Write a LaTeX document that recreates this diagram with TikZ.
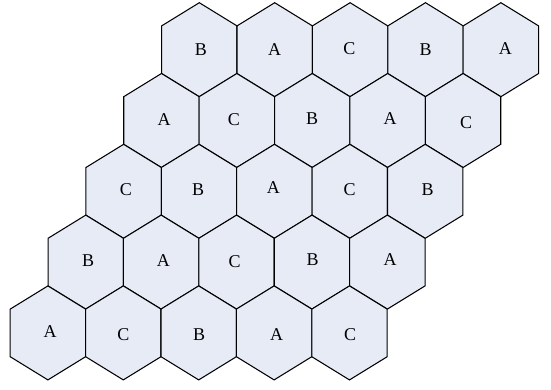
\documentclass[tikz,border=0pt]{standalone}
\usepackage{fontspec}
\setmainfont{Liberation Serif}
\definecolor{hexfill}{RGB}{230,235,246}
\begin{document}
\begin{tikzpicture}[x=1pt,y=-1pt,
  hex/.style={draw=black, line width=1.05pt, fill=hexfill, line join=miter},
  lbl/.style={font=\fontsize{18}{18}\selectfont, inner sep=0pt}]
\useasboundingbox (0,0) rectangle (551,389);
% hexagonal cells
\foreach \r in {0,...,4}{
  \foreach \c in {0,...,4}{
    \pgfmathsetmacro{\cx}{199.3-37.85*\r+75.4*\c}
    \pgfmathsetmacro{\cy}{49.7+70.8*\r}
    \draw[hex, shift={(\cx,\cy)}] (0,-47) -- (37.7,-23.8) -- (37.7,23.8) -- (0,47) -- (-37.7,23.8) -- (-37.7,-23.8) -- cycle;
  }
}
% labels
\node[lbl] (l00) at (200.8,49.2) {B};
\node[lbl] (l01) at (274.5,49.3) {A};
\node[lbl] (l02) at (349.3,49.0) {C};
\node[lbl] (l03) at (425.5,49.3) {B};
\node[lbl] (l04) at (505.3,49.0) {A};
\node[lbl] (l10) at (164.0,119.3) {A};
\node[lbl] (l11) at (233.8,119.3) {C};
\node[lbl] (l12) at (312.0,119.0) {B};
\node[lbl] (l13) at (390.0,119.0) {A};
\node[lbl] (l14) at (466.2,123.0) {C};
\node[lbl] (l20) at (125.8,190.0) {C};
\node[lbl] (l21) at (198.2,190.0) {B};
\node[lbl] (l22) at (273.3,187.3) {A};
\node[lbl] (l23) at (349.5,190.0) {C};
\node[lbl] (l24) at (427.5,190.0) {B};
\node[lbl] (l30) at (88.2,260.3) {B};
\node[lbl] (l31) at (163.3,260.3) {A};
\node[lbl] (l32) at (234.5,262.0) {C};
\node[lbl] (l33) at (312.5,260.0) {B};
\node[lbl] (l34) at (390.0,260.0) {A};
\node[lbl] (l40) at (50.0,331.3) {A};
\node[lbl] (l41) at (123.5,335.0) {C};
\node[lbl] (l42) at (199.0,334.7) {B};
\node[lbl] (l43) at (276.7,334.7) {A};
\node[lbl] (l44) at (350.0,335.0) {C};
\end{tikzpicture}
\end{document}
